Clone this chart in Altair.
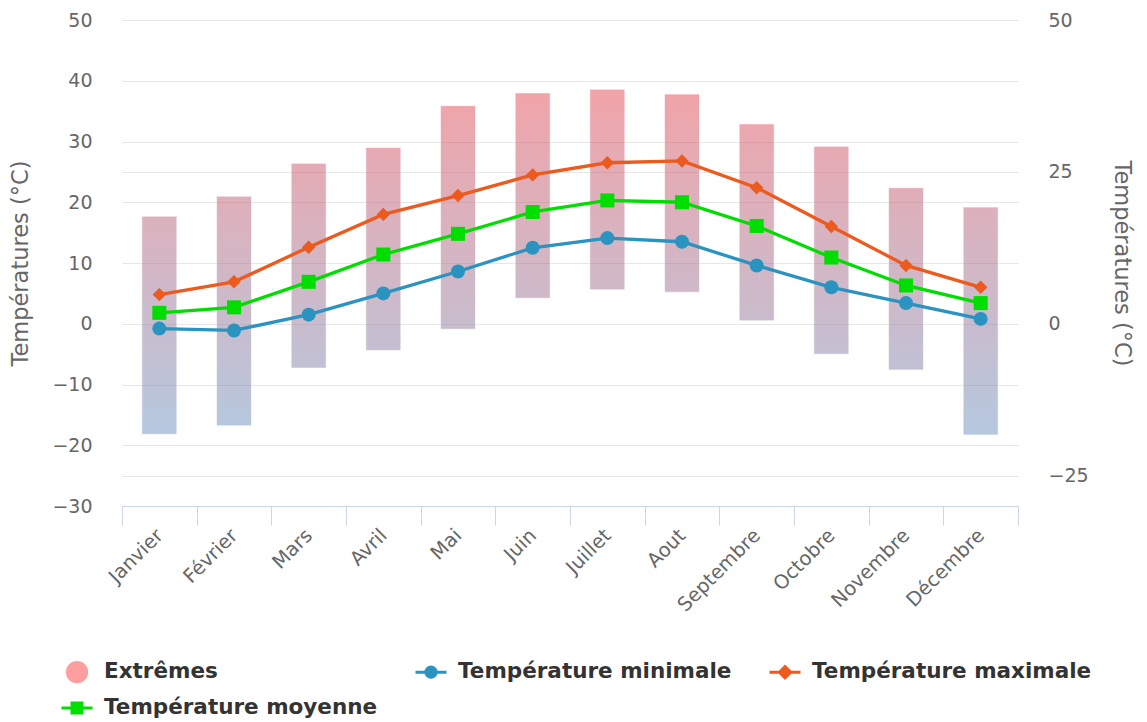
import altair as alt

FONT = "DejaVu Sans"

MONTHS = ["Janvier", "Février", "Mars", "Avril", "Mai", "Juin", "Juillet",
          "Aout", "Septembre", "Octobre", "Novembre", "Décembre"]
EXT_LOW = [-18.2, -16.8, -7.3, -4.4, -0.9, 4.2, 5.6, 5.2, 0.5, -5.0, -7.6, -18.3]
EXT_HIGH = [17.7, 21.0, 26.4, 29.0, 35.9, 38.0, 38.6, 37.8, 32.9, 29.2, 22.4, 19.2]
T_MIN = [-0.8, -1.1, 1.5, 5.0, 8.6, 12.5, 14.1, 13.5, 9.6, 6.0, 3.4, 0.8]
T_MAX = [4.8, 6.9, 12.6, 18.0, 21.1, 24.5, 26.5, 26.8, 22.4, 16.0, 9.6, 6.0]
T_MOY = [1.8, 2.7, 6.9, 11.4, 14.8, 18.4, 20.3, 20.0, 16.1, 10.9, 6.3, 3.4]

LEFT_TICKS = [-30, -20, -10, 0, 10, 20, 30, 40, 50]
RIGHT_TICKS = [-25, 0, 25, 50]

S_EXT = "Extrêmes"
S_MIN = "Température minimale"
S_MAX = "Température maximale"
S_MOY = "Température moyenne"
LEGEND_ORDER = [S_EXT, S_MIN, S_MAX, S_MOY]
LEGEND_COLORS = ["#ff9e9e", "#2b93c0", "#ec5a1e", "#00dd00"]
LEGEND_PATHS = [
    "M -0.62 0 A 0.62 0.62 0 1 0 0.62 0 A 0.62 0.62 0 1 0 -0.62 0 Z",
    "M 0 -0.62 M 0 0.62 M -1 0 L 1 0 M -0.33 0 A 0.33 0.33 0 1 0 0.33 0 A 0.33 0.33 0 1 0 -0.33 0 Z",
    "M 0 -0.62 M 0 0.62 M -1 0 L 1 0 M 0 -0.36 L 0.36 0 L 0 0.36 L -0.36 0 Z",
    "M 0 -0.62 M 0 0.62 M -1 0 L 1 0 M -0.32 -0.32 L 0.32 -0.32 L 0.32 0.32 L -0.32 0.32 Z",
]
LINE_SERIES = [S_MIN, S_MAX, S_MOY]
LINE_COLORS = ["#2b93c0", "#ec5a1e", "#00dd00"]

TOP_RGB = (230, 88, 97)
BOT_RGB = (120, 155, 197)
vmax, vmin = max(EXT_HIGH), min(EXT_LOW)


def col(v):
    t = (vmax - v) / (vmax - vmin)
    return "#%02x%02x%02x" % tuple(round(a + (b - a) * t) for a, b in zip(TOP_RGB, BOT_RGB))


bar_rows = []
for m, lo, hi in zip(MONTHS, EXT_LOW, EXT_HIGH):
    bar_rows.append({
        "month": m, "lo": lo, "hi": hi,
        "grad": {"gradient": "linear", "x1": 1, "y1": 0, "x2": 1, "y2": 1,
                 "stops": [{"offset": 0, "color": col(hi)},
                           {"offset": 1, "color": col(lo)}]},
    })

line_rows = []
for name, vals in zip(LINE_SERIES, [T_MIN, T_MAX, T_MOY]):
    for i, (m, v) in enumerate(zip(MONTHS, vals)):
        line_rows.append({"month": m, "idx": i, "s": name, "v": v})

leg_rows = [{"s": s, "v": 0} for s in LEGEND_ORDER]


def ysc():
    return alt.Scale(domain=[-30, 50], nice=False, zero=False)


x_enc = alt.X(
    "month:N",
    scale=alt.Scale(type="band", domain=MONTHS, paddingInner=0, paddingOuter=0),
    axis=alt.Axis(title=None, labelAngle=315, labelAlign="right", labelBaseline="middle",
                  labelPadding=7, labelFontSize=19.5, labelColor="#666666", labelFont=FONT,
                  tickSize=19, tickColor="#ccd6eb", tickWidth=1, tickBand="extent",
                  domainColor="#ccd6eb", domainWidth=1, grid=False, labelOverlap=False),
)


def y_axis(orient, values, pad):
    return alt.Axis(orient=orient, values=values, title="Températures (°C)", domain=False,
                    ticks=False, labelPadding=30, labelFontSize=19, labelColor="#666666",
                    labelFont=FONT, grid=True, gridColor="#e6e6e6", gridWidth=1,
                    titleColor="#666666", titleFontSize=22.5, titleFontWeight="normal",
                    titleFont=FONT, titlePadding=pad)


bars = alt.Chart(alt.Data(values=bar_rows)).mark_bar(
    size=35, fillOpacity=0.55, stroke="white", strokeWidth=1, strokeOpacity=0.6
).encode(
    x=x_enc,
    y=alt.Y("lo:Q", scale=ysc(), axis=y_axis("left", LEFT_TICKS, 19)),
    y2="hi:Q",
    fill=alt.Fill("grad:N", scale=None),
)

lines = alt.Chart(alt.Data(values=line_rows)).mark_line(strokeWidth=3.3).encode(
    x=x_enc,
    y=alt.Y("v:Q", scale=ysc(), axis=None),
    color=alt.Color("s:N", scale=alt.Scale(domain=LINE_SERIES, range=LINE_COLORS), legend=None),
    order=alt.Order("idx:Q"),
)


def pts(name, shape, size, color):
    return alt.Chart(alt.Data(values=line_rows)).transform_filter(
        alt.datum.s == name
    ).mark_point(filled=True, shape=shape, size=size, color=color, opacity=1).encode(
        x=x_enc, y=alt.Y("v:Q", scale=ysc(), axis=None)
    )


p_min = pts(S_MIN, "circle", 196, "#2b93c0")
p_max = pts(S_MAX, "diamond", 180, "#ec5a1e")
p_moy = pts(S_MOY, "square", 196, "#00dd00")

leg = alt.Legend(title=None, orient="none", legendX=-62, legendY=635, direction="horizontal",
                 columns=3, gridAlign="all", columnPadding=25, rowPadding=3, symbolSize=961,
                 symbolStrokeWidth=3, labelFontSize=21.5, labelFontWeight="bold",
                 labelColor="#333333", labelFont=FONT, labelOffset=10, labelLimit=500,
                 padding=0, symbolOpacity=1)

legend_layer = alt.Chart(alt.Data(values=leg_rows)).transform_filter("false").mark_point(
    filled=True, opacity=1, strokeWidth=3
).encode(
    y=alt.Y("v:Q", scale=ysc(), axis=y_axis("right", RIGHT_TICKS, 21)),
    fill=alt.Fill("s:N", scale=alt.Scale(domain=LEGEND_ORDER, range=LEGEND_COLORS), legend=leg),
    stroke=alt.Stroke("s:N", scale=alt.Scale(domain=LEGEND_ORDER, range=LEGEND_COLORS), legend=leg),
    shape=alt.Shape("s:N", scale=alt.Scale(domain=LEGEND_ORDER, range=LEGEND_PATHS), legend=leg),
)

chart = alt.layer(bars, lines, p_min, p_max, p_moy, legend_layer).resolve_scale(
    y="independent"
).properties(
    width=896, height=486,
    autosize=alt.AutoSizeParams(type="none"),
    padding={"left": 114, "top": 12, "right": 121, "bottom": 222},
).configure(font=FONT).configure_view(strokeWidth=0, stroke="transparent")

chart.save("out.html", embed_options={"renderer": "svg", "actions": False})
